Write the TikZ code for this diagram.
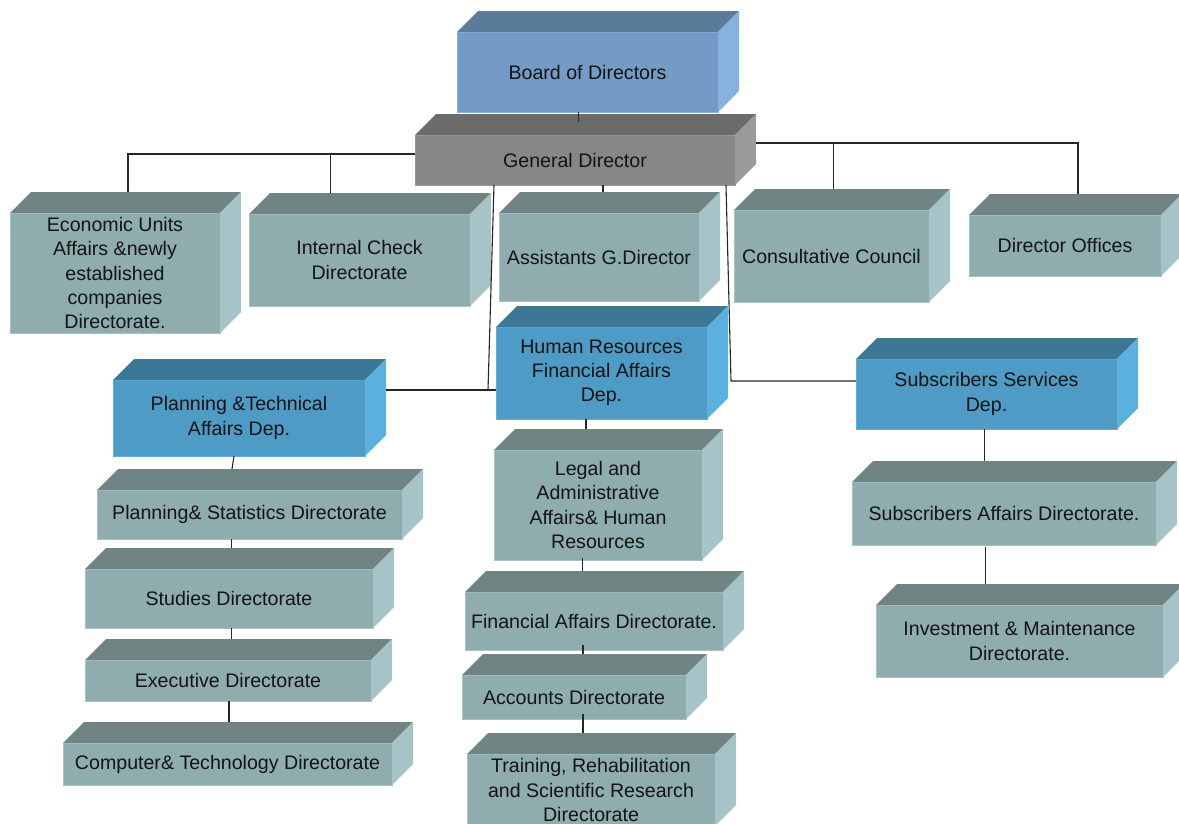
\documentclass[tikz,border=0pt]{standalone}
\usepackage{fontspec}
\setmainfont{Liberation Sans}
\usetikzlibrary{calc}

% palettes: F = front face, T = top face, S = side face
\definecolor{tealF}{HTML}{8FACAE}
\definecolor{tealT}{HTML}{708484}
\definecolor{tealS}{HTML}{A6C4C7}
\definecolor{deptF}{HTML}{4E9BC6}
\definecolor{deptT}{HTML}{3C7896}
\definecolor{deptS}{HTML}{5AB1E0}
\definecolor{boardF}{HTML}{749AC6}
\definecolor{boardT}{HTML}{5B7B9B}
\definecolor{boardS}{HTML}{87B2DF}
\definecolor{gdF}{HTML}{878787}
\definecolor{gdT}{HTML}{6B6B6B}
\definecolor{gdS}{HTML}{9B9B9B}

\newcommand\cubedepth{21}

% \orgcube{name}{palette}{left}{top}{right}{bottom}{text}
\newcommand\orgcube[7]{%
  \node[orgbox, fill=#2F, draw=#2S,
        minimum width={#5-#3}, minimum height={#6-#4}]
        (#1) at ({(#3+#5)/2},{(#4+#6)/2}) {#7};
  \fill[#2T] (#1.north west) -- ++(\cubedepth,-\cubedepth)
             -- ++({#5-#3},0) -- (#1.north east) -- cycle;
  \fill[#2S] (#1.north east) -- ++(\cubedepth,-\cubedepth)
             -- ++(0,{#6-#4}) -- (#1.south east) -- cycle;
}

\tikzset{
  orgbox/.style={inner sep=0pt, outer sep=0pt, line width=0.7pt, align=center,
                 text=black!92, font=\fontsize{19.6}{24.2}\selectfont},
  link/.style={draw=black!85, line width=1.1pt}
}

\begin{document}
\begin{tikzpicture}[x=1pt,y=-1pt]
\useasboundingbox (0,0) rectangle (1179,823);

% top of the hierarchy
\orgcube{board}{board}{457}{32}{718}{112}{Board of Directors}
\orgcube{gd}{gd}{415}{135}{735}{185}{General Director}

% units attached to the general director
\orgcube{econ}{teal}{10}{213}{220}{333}{Economic Units\\Affairs \&newly\\established\\companies\\Directorate.}
\orgcube{check}{teal}{249}{214}{470}{306}{Internal Check\\Directorate}
\orgcube{assist}{teal}{499}{213}{699}{301}{Assistants G.Director}
\orgcube{council}{teal}{734}{210}{929}{302}{Consultative Council}
\orgcube{offices}{teal}{969}{215}{1161}{276}{Director Offices}

% departments
\orgcube{plan}{dept}{113}{380}{365}{456}{Planning \&Technical\\Affairs Dep.}
\orgcube{hr}{dept}{496}{327}{707}{419}{Human Resources\\Financial Affairs\\Dep.}
\orgcube{subs}{dept}{856}{359}{1117}{429}{Subscribers Services\\Dep.}

% planning branch
\orgcube{stats}{teal}{97}{490}{402}{539}{Planning\& Statistics Directorate}
\orgcube{studies}{teal}{85}{569}{373}{628}{Studies Directorate}
\orgcube{exec}{teal}{85}{660}{371}{701}{Executive Directorate}
\orgcube{comp}{teal}{63}{743}{392}{785}{Computer\& Technology Directorate}

% human resources branch
\orgcube{legal}{teal}{494}{450}{702}{560}{Legal and\\Administrative\\Affairs\& Human\\Resources}
\orgcube{fin}{teal}{465}{592}{723}{650}{Financial Affairs Directorate.}
\orgcube{accts}{teal}{462}{675}{686}{719}{Accounts Directorate}
\orgcube{train}{teal}{467}{754}{715}{826}{Training, Rehabilitation\\and Scientific Research\\Directorate}

% subscribers branch
\orgcube{saff}{teal}{852}{482}{1156}{545}{Subscribers Affairs Directorate.}
\orgcube{invest}{teal}{876}{605}{1163}{677}{Investment \& Maintenance\\Directorate.}

% connectors
\draw[link] ([shift={(-9,0)}]board.south) -- ++(0,10);

\coordinate (gdl) at ([shift={(0,-6)}]gd.west);
\draw[link] (gdl) -| ([shift={(13,-21)}]econ.north);
\draw[link] ([shift={(-29,-21)}]check.north) |- (gdl);

\coordinate (gdr) at ([shift={(21,-17)}]gd.east);
\draw[link] (gdr) -| ([shift={(13,-21)}]offices.north);
\draw[link] ([shift={(2,-21)}]council.north) |- (gdr);

\draw[link] ([shift={(4,-21)}]assist.north) -- ([xshift=4pt]assist.north |- gd.south);

\coordinate (jl) at ([shift={(-8,17)}]hr.west);
\draw[link] ([shift={(-81,0)}]gd.south) -- (jl);
\draw[link] ([shift={(21,-28)}]plan.east) -- ([shift={(0,17)}]hr.west);

\coordinate (jr) at ([shift={(-125,-13)}]subs.west);
\draw[link] ([shift={(151,0)}]gd.south) -- (jr) -- ([shift={(0,-13)}]subs.west);

\draw[link] ([shift={(-5,0)}]plan.south) -- ([shift={(-17.5,-21)}]stats.north);
\draw[link] ([xshift=2.5pt]studies.north |- stats.south) -- ([shift={(2.5,-21)}]studies.north);
\draw[link] ([xshift=3.5pt]exec.north |- studies.south) -- ([shift={(3.5,-21)}]exec.north);
\draw[link] ([xshift=1.5pt]comp.north |- exec.south) -- ([shift={(1.5,-21)}]comp.north);

\draw[link] ([xshift=-12pt]legal.north |- hr.south) -- ([shift={(-12,-21)}]legal.north);
\draw[link] ([shift={(-11.5,-2)}]fin.north |- legal.south) -- ([shift={(-11.5,-21)}]fin.north);
\draw[link] ([shift={(9,-5)}]accts.north |- fin.south) -- ([shift={(9,-21)}]accts.north);
\draw[link] ([shift={(-8,-5)}]train.north |- accts.south) -- ([shift={(-8,-21)}]train.north);

\draw[link] ([shift={(-2,0)}]subs.south) -- ([shift={(-19.5,-21)}]saff.north);
\draw[link] ([shift={(-34,2)}]invest.north |- saff.south) -- ([shift={(-34,-21)}]invest.north);
\end{tikzpicture}
\end{document}
